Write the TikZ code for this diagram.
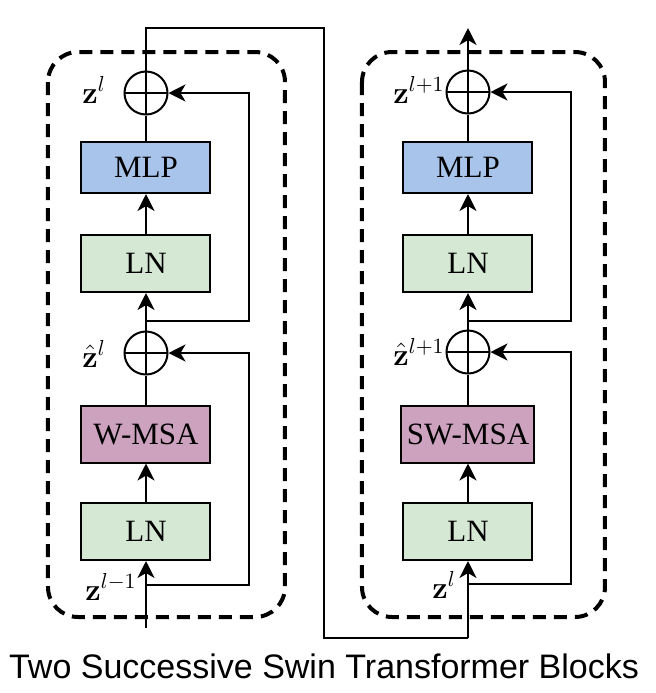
\RequirePackage{fix-cm}
\documentclass[tikz,border=0pt]{standalone}
\usepackage[no-math]{fontspec}
\setmainfont{Liberation Serif}
\newfontfamily\captionfont{Liberation Sans}
\usepackage{xcolor}
\usepackage{tikz}
\usetikzlibrary{arrows.meta}
\definecolor{mlpBlue}{HTML}{A9C4EB}
\definecolor{normGreen}{HTML}{D5E8D4}
\definecolor{attnPurple}{HTML}{CDA2BE}

\tikzset{
    layerbox/.style={
        draw=black,
        line width=1pt,
        minimum width=64.5pt,
        minimum height=28.5pt,
        inner sep=0pt,
        font=\fontsize{15.5}{18}\selectfont
    },
    addop/.style={
        circle,
        draw=black,
        line width=1pt,
        minimum size=21.5pt,
        inner sep=0pt,
        path picture={
            \draw[line width=1pt]
                (path picture bounding box.north) -- (path picture bounding box.south)
                (path picture bounding box.west) -- (path picture bounding box.east);
        }
    },
    wire/.style={
        line width=1.1pt
    },
    flow/.style={
        line width=1.1pt,
        -{Stealth[length=8.5pt,width=8.5pt,inset=2.5pt]}
    },
    varlabel/.style={
        anchor=base west,
        inner sep=0pt,
        font=\fontsize{15.5}{18}\selectfont
    }
}

\begin{document}
\begin{tikzpicture}[x=0.5pt,y=-0.5pt]

        \useasboundingbox (0,0) rectangle (656,693);

        % Contenedores punteados
        \draw[
            line width=2pt,
            dash pattern=on 6.5pt off 4pt,
            rounded corners=15pt
        ] (48,52) rectangle (285,617);

        \draw[
            line width=2pt,
            dash pattern=on 6.5pt off 4pt,
            rounded corners=15pt
        ] (362,52) rectangle (605,617);

        % =====================================================
        % BLOQUE 1 (W-MSA)
        % =====================================================

        \node[layerbox, fill=normGreen] (lNormLow) at (146,531.5) {LN};
        \node[layerbox, fill=attnPurple] (lAttn) at (146,434) {W-MSA};
        \node[addop] (lAddLow) at (146,353) {};
        \node[layerbox, fill=normGreen] (lNormUp) at (146,263.5) {LN};
        \node[layerbox, fill=mlpBlue, minimum height=25.5pt] (lMLP) at (146,167.5) {MLP};
        \node[addop] (lAddTop) at (146,93) {};

        \coordinate (lIn) at (146,628);
        \coordinate (lSplitLow) at (146,585);
        \coordinate (lSplitUp) at (146,321);
        \coordinate (lSkipLow) at (249,585);
        \coordinate (lSkipUp) at (249,321);

        \draw[flow] (lIn) -- (lNormLow.south);
        \draw[flow] (lNormLow.north) -- (lAttn.south);
        \draw[wire] (lAttn.north) -- (lAddLow.south);
        \draw[flow] (lAddLow.north) -- (lNormUp.south);
        \draw[flow] (lNormUp.north) -- (lMLP.south);
        \draw[wire] (lMLP.north) -- (lAddTop.south);

        \draw[flow] (lSplitLow) -- (lSkipLow) |- (lAddLow.east);
        \draw[flow] (lSplitUp) -- (lSkipUp) |- (lAddTop.east);

        \node[varlabel] (lLabTop) at (82,103) {$\mathbf{z}^{l}$};
        \node[varlabel] (lLabLow) at (82,367) {$\hat{\mathbf{z}}^{l}$};
        \node[varlabel] (lLabIn) at (85,600) {$\mathbf{z}^{l-1}$};

        % =====================================================
        % BLOQUE 2 (SW-MSA)
        % =====================================================

        \node[layerbox, fill=normGreen] (rNormLow) at (468,531.5) {LN};
        \node[layerbox, fill=attnPurple, minimum width=66.5pt] (rAttn) at (468,434) {SW-MSA};
        \node[addop] (rAddLow) at (468,352) {};
        \node[layerbox, fill=normGreen] (rNormUp) at (468,263.5) {LN};
        \node[layerbox, fill=mlpBlue, minimum height=25.5pt] (rMLP) at (468,167.5) {MLP};
        \node[addop] (rAddTop) at (468,92) {};

        \coordinate (rIn) at (468,638);
        \coordinate (rSplitLow) at (468,584);
        \coordinate (rSplitUp) at (468,321);
        \coordinate (rSkipLow) at (571,584);
        \coordinate (rSkipUp) at (571,321);
        \coordinate (rOut) at (468,28);

        \draw[flow] (rIn) -- (rNormLow.south);
        \draw[flow] (rNormLow.north) -- (rAttn.south);
        \draw[wire] (rAttn.north) -- (rAddLow.south);
        \draw[flow] (rAddLow.north) -- (rNormUp.south);
        \draw[flow] (rNormUp.north) -- (rMLP.south);
        \draw[wire] (rMLP.north) -- (rAddTop.south);
        \draw[flow] (rAddTop.north) -- (rOut);

        \draw[flow] (rSplitLow) -- (rSkipLow) |- (rAddLow.east);
        \draw[flow] (rSplitUp) -- (rSkipUp) |- (rAddTop.east);

        \node[varlabel] (rLabTop) at (393,103) {$\mathbf{z}^{l+1}$};
        \node[varlabel] (rLabLow) at (393,365) {$\hat{\mathbf{z}}^{l+1}$};
        \node[varlabel] (rLabIn) at (432,598) {$\mathbf{z}^{l}$};

        % Conexión entre bloques
        \coordinate (lOut) at (146,28);
        \coordinate (linkTop) at (324,28);
        \coordinate (linkBot) at (324,638);
        \draw[wire] (lAddTop.north) -- (lOut) -- (linkTop) -- (linkBot) -- (rIn);

        % Título
        \node[
            anchor=base,
            font=\captionfont\fontsize{17}{20}\selectfont
        ] (caption) at (324,678) {Two Successive Swin Transformer Blocks};

\end{tikzpicture}
\end{document}
